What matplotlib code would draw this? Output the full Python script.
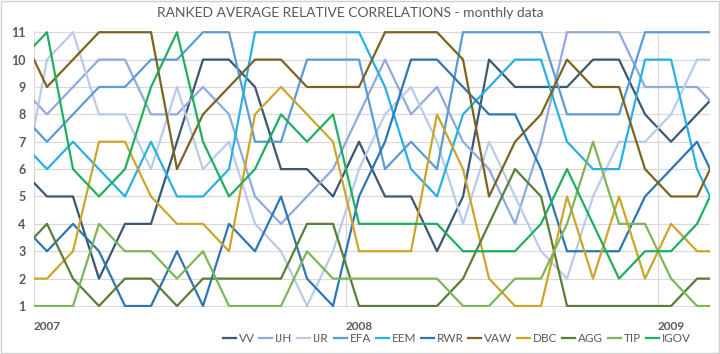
import numpy as np
import matplotlib
matplotlib.use("Agg")
import matplotlib.pyplot as plt
from matplotlib.patches import Rectangle

# month index (0 = Jan 2007); points sit mid-month, first/last are clipped by the axis
months = np.arange(-1, 27) + 0.5

VV   = [6, 5, 5, 2, 4, 4, 7, 10, 10, 9, 6, 6, 5, 7, 5, 5, 3, 5, 10, 9, 9, 9, 10, 10, 8, 7, 8, 9]
IJH  = [9, 8, 9, 10, 10, 8, 8, 9, 8, 5, 4, 5, 6, 8, 10, 8, 9, 7, 6, 4, 7, 11, 11, 11, 9, 9, 9, 8]
IJR  = [5, 10, 11, 8, 8, 6, 9, 6, 7, 4, 3, 1, 3, 6, 8, 9, 7, 4, 7, 5, 3, 2, 5, 7, 7, 8, 10, 10]
EFA  = [8, 7, 8, 9, 9, 10, 10, 11, 11, 7, 7, 10, 10, 10, 6, 7, 6, 11, 11, 11, 11, 8, 8, 8, 11, 11, 11, 11]
EEM  = [7, 6, 7, 6, 5, 7, 5, 5, 6, 11, 11, 11, 11, 11, 9, 6, 5, 8, 9, 10, 10, 7, 6, 6, 10, 10, 6, 4]
RWR  = [4, 3, 4, 3, 1, 1, 3, 1, 4, 3, 5, 2, 1, 5, 7, 10, 10, 9, 8, 8, 6, 3, 3, 3, 5, 6, 7, 5]
VAW  = [11, 9, 10, 11, 11, 11, 6, 8, 9, 10, 10, 9, 9, 9, 11, 11, 11, 10, 5, 7, 8, 10, 9, 9, 6, 5, 5, 7]
DBC  = [2, 2, 3, 7, 7, 5, 4, 4, 3, 8, 9, 8, 7, 3, 3, 3, 8, 6, 2, 1, 1, 5, 2, 5, 2, 4, 3, 3]
AGG  = [3, 4, 2, 1, 2, 2, 1, 2, 2, 2, 2, 4, 4, 1, 1, 1, 1, 2, 4, 6, 5, 1, 1, 1, 1, 1, 2, 2]
TIP  = [1, 1, 1, 4, 3, 3, 2, 3, 1, 1, 1, 3, 2, 2, 2, 2, 2, 1, 1, 2, 2, 4, 7, 4, 4, 2, 1, 1]
IGOV = [10, 11, 6, 5, 6, 9, 11, 7, 5, 6, 8, 7, 8, 4, 4, 4, 4, 3, 3, 3, 4, 6, 4, 2, 3, 3, 4, 6]

names = ["VV", "IJH", "IJR", "EFA", "EEM", "RWR", "VAW", "DBC", "AGG", "TIP", "IGOV"]
series = [VV, IJH, IJR, EFA, EEM, RWR, VAW, DBC, AGG, TIP, IGOV]
colours = ["#3A5873", "#8FAADC", "#B9CBE8", "#5B9BD5", "#27B0E6", "#2E75B6",
           "#7B6420", "#CCA529", "#5A7D3A", "#7DB657", "#1FAF5F"]

year_ticks = [0, 12, 24]
year_labels = ["2007", "2008", "2009"]

plt.rcParams['font.family'] = ['Lato', 'DejaVu Sans']

fig = plt.figure(figsize=(7.2, 3.54), dpi=100)
fig.patches.append(Rectangle((0.002, 0.003), 0.996, 0.994, transform=fig.transFigure,
                             fill=False, edgecolor="#D0D0D0", linewidth=1))
ax = fig.add_axes([0.0472, 0.1333, 0.939, 0.778])

for name, y, c in zip(names, series, colours):
    ax.plot(months, y, color=c, linewidth=1.6, label=name)

ax.set_xlim(0, 26)
ax.set_ylim(0.97, 11.03)
ax.set_yticks(range(1, 12))
ax.set_yticklabels([str(i) for i in range(1, 12)], fontsize=9, fontweight="bold", color="#595959")
ax.set_xticks(year_ticks)
ax.set_xticklabels(year_labels, fontsize=8.5, fontweight="bold", color="#595959", ha="left")
ax.tick_params(axis="both", length=0, pad=6)
ax.tick_params(axis="x", pad=10)

for i in range(1, 12):
    ax.axhline(i, color="#D9D9D9", linewidth=0.9, zorder=0)
for t in year_ticks:
    ax.axvline(t, color="#D9D9D9", linewidth=0.9, zorder=0)
for s in ax.spines.values():
    s.set_visible(False)

fig.text(0.487, 0.963, "RANKED AVERAGE RELATIVE CORRELATIONS - monthly data",
         ha="center", va="center", fontsize=10, color="#595959")

ax.legend(loc="center", bbox_to_anchor=(0.625, -0.115), ncol=11, frameon=False,
          fontsize=8.5, handlelength=1.1, handletextpad=0.25, columnspacing=0.4,
          labelcolor="#595959", borderpad=0.2)

fig.savefig("out.png", dpi=100)
